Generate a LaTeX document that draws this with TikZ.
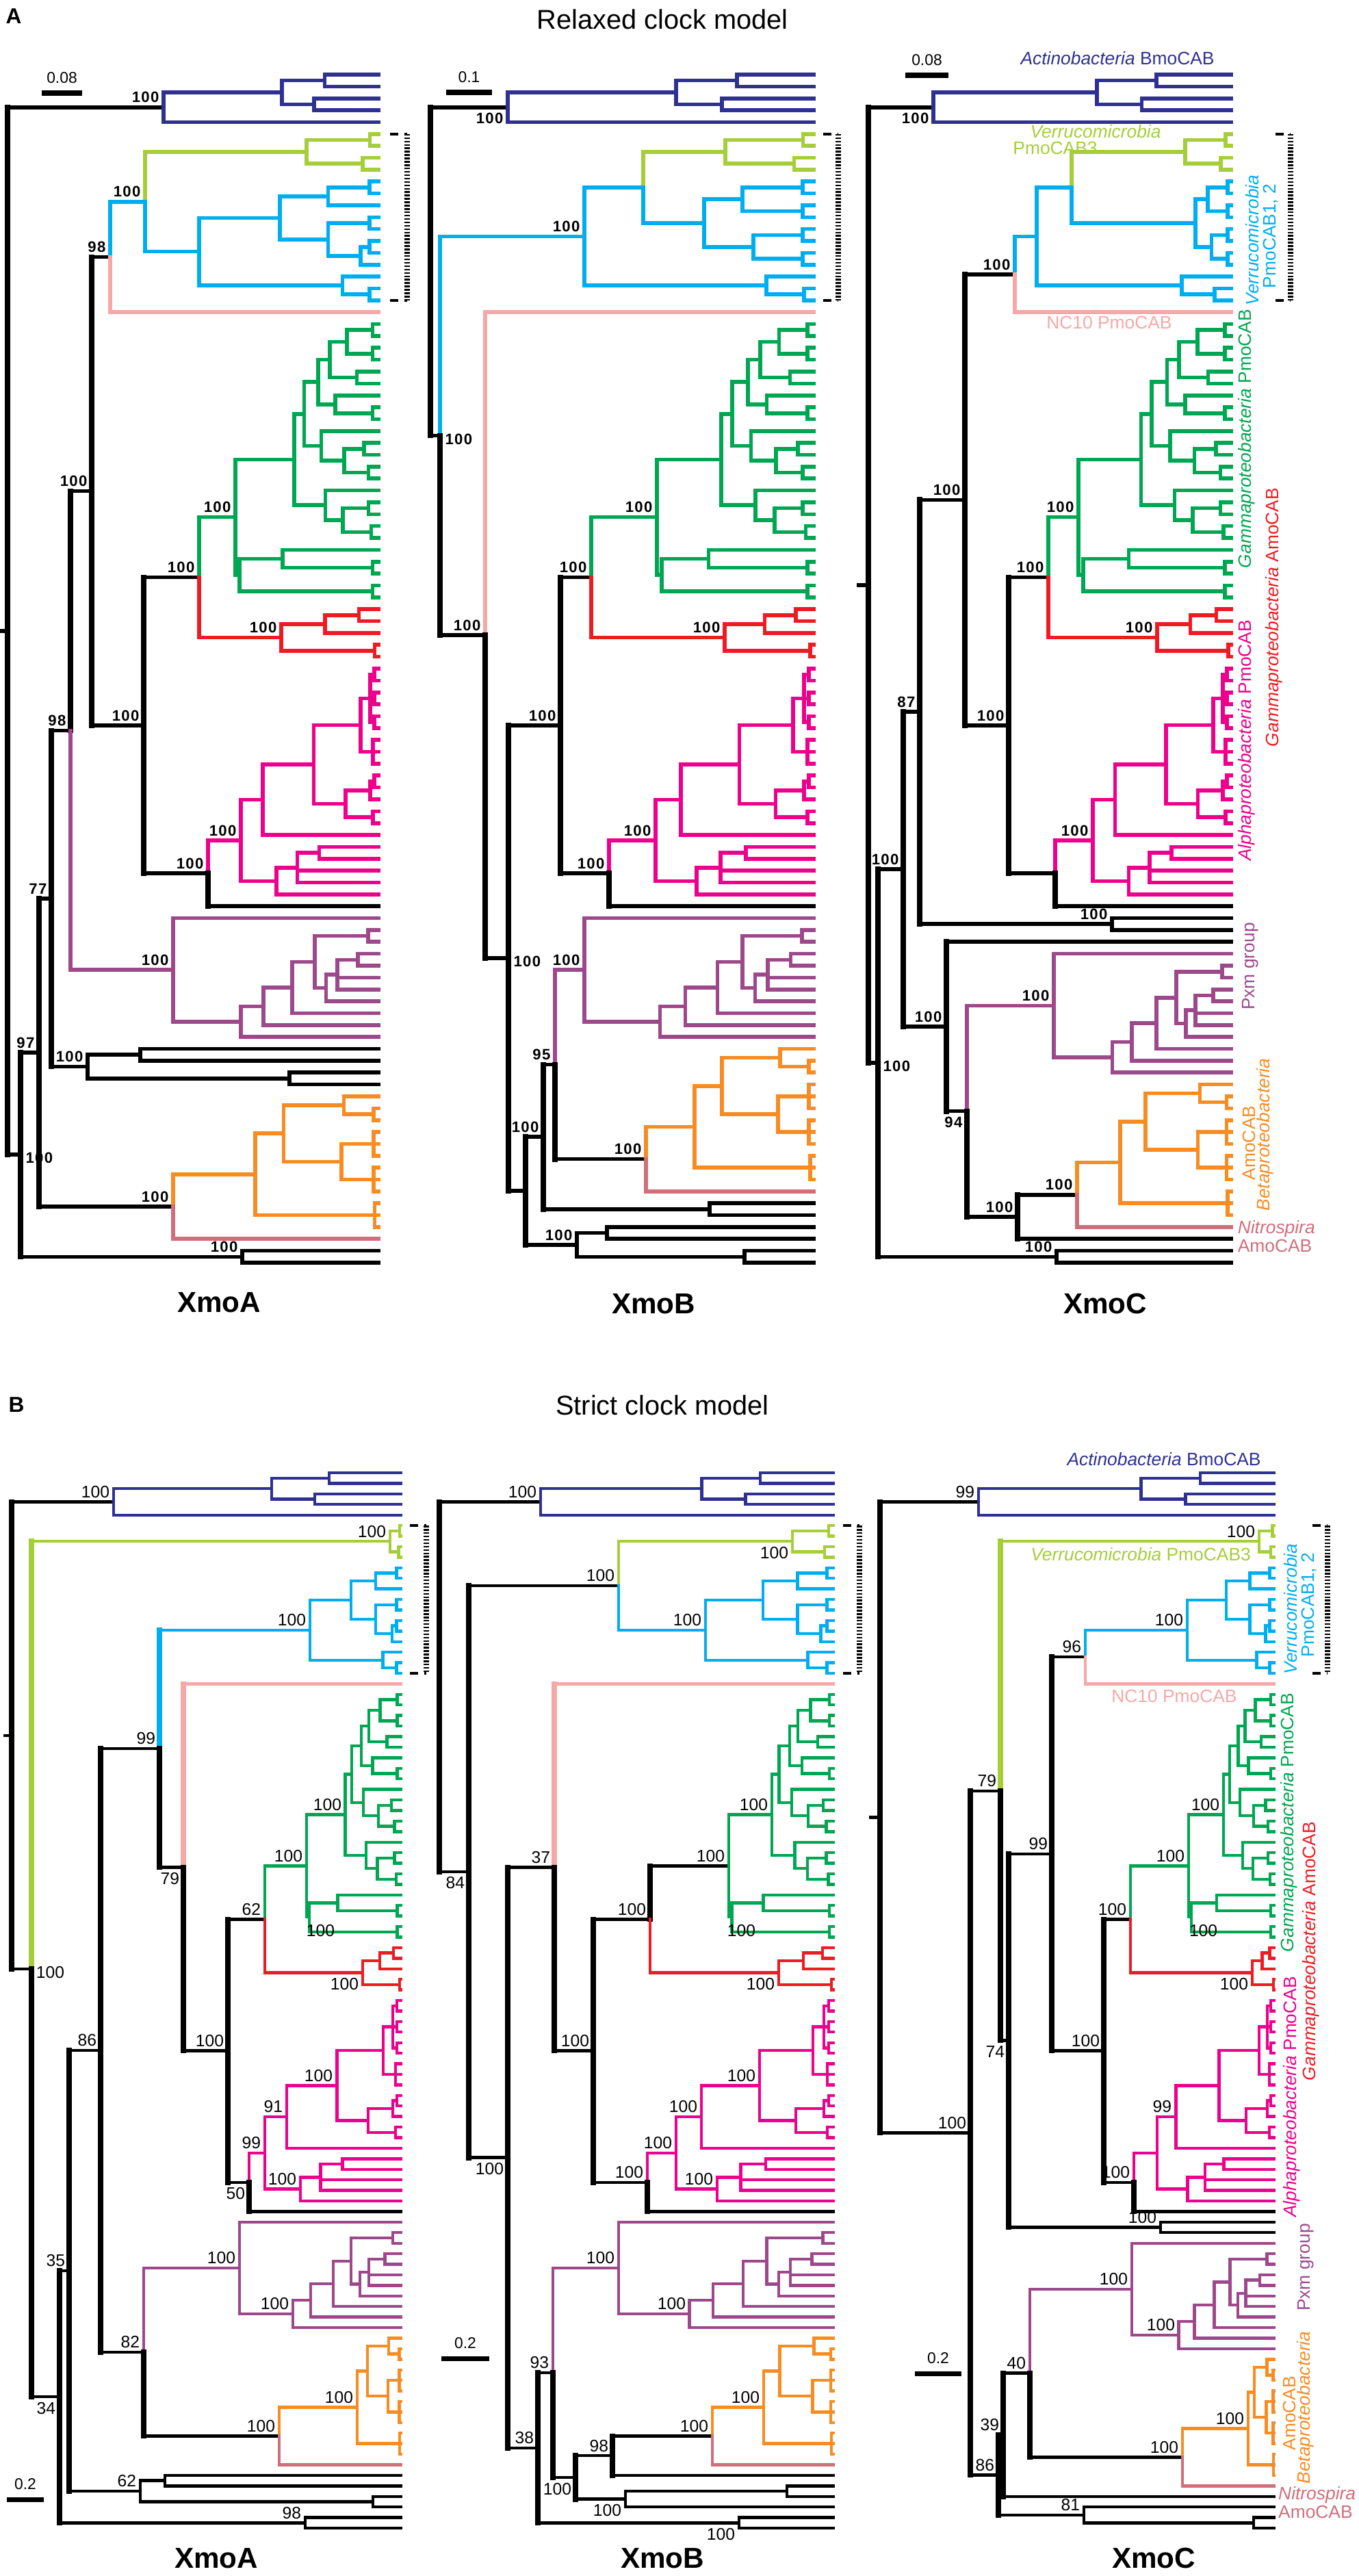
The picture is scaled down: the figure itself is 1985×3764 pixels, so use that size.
\documentclass[tikz,border=0pt]{standalone}
\usepackage{fontspec}
\setmainfont{Liberation Sans}
\newfontfamily\bsfont[LetterSpace=6]{Liberation Sans}

\definecolor{cAct}{RGB}{46,49,146}
\definecolor{cVer}{RGB}{166,206,57}
\definecolor{cCy}{RGB}{0,174,239}
\definecolor{cNc}{RGB}{246,168,166}
\definecolor{cGam}{RGB}{0,166,81}
\definecolor{cRed}{RGB}{237,28,36}
\definecolor{cAlp}{RGB}{236,0,140}
\definecolor{cPxm}{RGB}{158,72,140}
\definecolor{cBet}{RGB}{247,140,35}
\definecolor{cNit}{RGB}{208,110,122}

% branch helpers, x in pixels, rows counted from the top tip
\newcommand\hbr[4]{\draw[#1] (#2,{\ya+(#4)*\dy}) -- (#3,{\ya+(#4)*\dy});}
\newcommand\vbr[4]{\draw[#1] (#2,{\ya+(#3)*\dy}) -- (#2,{\ya+(#4)*\dy});}
\newcommand\rake[4]{\vbr{#1}{#2}{#3}{#4}%
  \foreach \kK in {#3,...,#4} {\hbr{#1}{#2}{\tx}{\kK}}}
% clade from list: parent f / node f / row / bar from / bar to / tips from / tips to
\newcommand\clade[4]{%
  \foreach \pP/\fF/\mM/\aA/\bB/\tA/\tB in #4 {%
    \ifdim\pP pt<\fF pt
      \draw[#1] ({#2+\pP*(\tx-#2)},{\ya+(#3+\mM)*\dy}) -- ({#2+\fF*(\tx-#2)},{\ya+(#3+\mM)*\dy});
    \fi
    \ifdim\aA pt<\bB pt
      \draw[#1] ({#2+\fF*(\tx-#2)},{\ya+(#3+\aA)*\dy}) -- ({#2+\fF*(\tx-#2)},{\ya+(#3+\bB)*\dy});
    \fi
    \ifdim\tA pt>\tB pt\else
      \foreach \kK in {\tA,...,\tB}
        {\draw[#1] ({#2+\fF*(\tx-#2)},{\ya+(#3+\kK)*\dy}) -- (\tx,{\ya+(#3+\kK)*\dy});}
    \fi
  }}
% support values
\newcommand\bsu[3]{\node[bsl,anchor=south east] at ({#1-2},{\ya+(#2)*\dy-2}) {#3};}
\newcommand\bsd[3]{\node[bsl,anchor=north east] at ({#1-2},{\ya+(#2)*\dy+4}) {#3};}
\newcommand\bsr[3]{\node[bsl,anchor=west] at ({#1+3},{\ya+(#2)*\dy+5}) {#3};}

% clade shapes
\def\Lblue{0/0/2.75/1.5/4/4/4, 0/0.55/1.5/0.5/2.5/1/0, 0.55/0.75/0.5/0/1/0/1, 0.55/0.7/2.5/2/3/2/3}
\def\Lgy{0/0/1.5/0.5/2.5/1/0, 0/0.88/0.5/0/1/0/1, 0/0.78/2.5/2/3/2/3}
\def\Lcyan{0/0/5.9/3.06/8.75/1/0, 0/0.45/3.06/1.25/4.875/1/0, 0.45/0.72/1.25/0.5/2/2/2,
  0.72/0.95/0.5/0/1/0/1, 0.45/0.72/4.875/3.5/6.25/1/0, 0.72/0.95/3.5/3/4/3/4,
  0.72/0.9/6.25/5.5/7/7/7, 0.9/0.95/5.5/5/6/5/6, 0/0.8/8.75/8/9.5/8/8, 0.8/0.95/9.5/9/10/9/10}
\def\Lcyeight{0/0/3.5/1.5/5.5/1/0, 0/0.35/1.5/0.5/2.5/1/0, 0.35/0.9/0.5/0/1/0/1,
  0.35/0.9/2.5/2/3/2/3, 0/0.45/5.5/4.5/6.5/1/0, 0.45/0.9/4.5/4/5/4/5, 0.45/0.9/6.5/6/7/6/7}
\def\Lgreen{0/0/16.25/11.4/21.1/1/0, 0/0.41/11.4/7.56/15.25/1/0, 0.41/0.48/7.56/4.875/10.25/1/0,
  0.48/0.58/4.875/3/6.75/1/0, 0.58/0.66/3/1.5/4.5/1/0, 0.66/0.78/1.5/0.5/2.5/1/0,
  0.78/0.96/0.5/0/1/0/1, 0.78/0.96/2.5/2/3/2/3, 0.66/0.85/4.5/4/5/4/5,
  0.58/0.7/6.75/6/7.5/6/6, 0.7/0.96/7.5/7/8/7/8, 0.48/0.6/10.25/9/11.5/9/9,
  0.6/0.76/11.5/10.5/12.5/1/0, 0.76/0.9/10.5/10/11/10/11, 0.76/0.93/12.5/12/13/12/13,
  0.41/0.63/15.25/14/16.5/14/14, 0.63/0.75/16.5/15.5/17.5/1/0, 0.75/0.93/15.5/15/16/15/16,
  0.75/0.95/17.5/17/18/17/18, 0/0.03/21.1/19.75/22.5/1/0, 0.03/0.33/19.75/19/20.5/19/19,
  0.33/0.96/20.5/20/21/20/21, 0.03/0.96/22.5/22/23/22/23}
\def\Lred{0/0/2.375/1.25/3.5/1/0, 0/0.45/1.25/0.5/2/2/2, 0.45/0.8/0.5/0/1/0/1, 0/0.96/3.5/3/4/3/4}
\def\Lmag{0/0/14.45/11.03/17.875/1/0, 0/0.16/11.03/8.06/14/14/14, 0.16/0.53/8.06/4.75/11.375/1/0,
  0.53/0.87/4.75/2.5/7/1/0, 0.87/0.94/2.5/0.5/4.5/1/0, 0.94/0.97/0.5/0/1/0/1,
  0.94/0.97/2.5/2/3/2/3, 0.94/0.97/4.5/4/5/4/5, 0.87/0.96/7/6/8/6/8,
  0.53/0.76/11.375/10.25/12.5/1/0, 0.76/0.94/10.25/9.5/11/11/11, 0.94/0.97/9.5/9/10/9/10,
  0.76/0.96/12.5/12/13/12/13, 0/0.26/17.875/16.75/19/19/19, 0.26/0.41/16.75/15.5/18/17/18,
  0.41/0.57/15.5/15/16/15/16}
\def\Lpurple{0/0/4.36/0/8.71/0/0, 0/0.33/8.71/7.42/10/10/10, 0.33/0.44/7.42/5.84/9/9/9,
  0.44/0.58/5.84/3.69/8/8/8, 0.58/0.69/3.69/1.5/5.875/1/0, 0.69/0.95/1.5/1/2/1/2,
  0.69/0.745/5.875/4.75/7/7/7, 0.745/0.8/4.75/3.5/6/5/6, 0.8/0.9/3.5/3/4/3/4}
\def\Lorange{0/0/6.56/3.125/10/1/0, 0/0.23/3.125/0.75/5.5/1/0, 0.23/0.72/0.75/0/1.5/0/0,
  0.72/0.96/1.5/1/2/1/2, 0.23/0.7/5.5/4/7/1/0, 0.7/0.96/4/3/5/3/5,
  0.7/0.96/7/6/8/6/8, 0/0.97/10/9/11/9/11}

\begin{document}
\begin{tikzpicture}[
    x = 0.01cm,
    y = -0.01cm,
    line cap = rect,
    clab/.style = {font=\fontsize{7.5}{8}\selectfont, inner sep=0pt},
    gene/.style = {font=\bfseries\fontsize{12}{14}\selectfont},
    brkh/.style = {line cap=butt, line width=1.1pt, dash pattern=on 3.5pt off 2.5pt},
    brkv/.style = {line cap=butt, line width=2.2pt, dash pattern=on 0.7pt off 0.7pt},
    sbar/.style = {line cap=butt, line width=2pt},
    slab/.style = {font=\fontsize{6.5}{7}\selectfont, inner sep=1pt},
    relaxed/.style = {line width=1.6pt, bkv/.style={black,line width=2.2pt},
      bsl/.style={font=\bsfont\bfseries\fontsize{6.3}{7}\selectfont, inner sep=0.5pt}},
    strict/.style = {line width=1.25pt, bkv/.style={black,line width=2.2pt},
      bsl/.style={font=\fontsize{7}{8}\selectfont, inner sep=0.5pt}},
    ]
  \useasboundingbox (0,0) rectangle (1985,3764);
  % panel titles
  \node[font=\bfseries\fontsize{9}{10}\selectfont] (lblA) at (20,24) {A};
  \node[font=\fontsize{11.3}{13}\selectfont] (ttlRel) at (968,28) {Relaxed clock model};
  \node[font=\bfseries\fontsize{9}{10}\selectfont] (lblB) at (24,2053) {B};
  \node[font=\fontsize{11.3}{13}\selectfont] (ttlStr) at (968,2053) {Strict clock model};
  \node[gene] (xmoArel) at (320,1903) {XmoA};
  \node[gene] (xmoBrel) at (955,1905) {XmoB};
  \node[gene] (xmoCrel) at (1615,1905) {XmoC};
  \node[gene] (xmoAstr) at (316,3738) {XmoA};
  \node[gene] (xmoBstr) at (968,3738) {XmoB};
  \node[gene] (xmoCstr) at (1686,3738) {XmoC};

  % ---------- relaxed XmoA ----------
  \begin{scope}[relaxed]
    \def\tx{553}\def\ya{109}\def\dy{17.36}
    \hbr{black}{0}{11}{46.83}
    \vbr{bkv}{11}{2.75}{90.91}
    \hbr{black}{11}{239}{2.75}
    \clade{cAct}{239}{0}{\Lblue}
    \hbr{black}{11}{30}{90.91}
    \vbr{bkv}{30}{82.32}{99.5}
    \hbr{black}{30}{57}{82.32}
    \hbr{black}{30}{354}{99.5}
    \rake{black}{354}{99}{100}
    \vbr{bkv}{57}{69.36}{95.28}
    \hbr{black}{57}{75}{69.36}
    \hbr{black}{57}{253}{95.28}
    \vbr{cBet}{253}{92.56}{95.28}
    \vbr{cNit}{253}{95.28}{98}
    \hbr{cBet}{253}{373}{92.56}
    \clade{cBet}{373}{86}{\Lorange}
    \hbr{cNit}{253}{\tx}{98}
    \vbr{bkv}{75}{55.21}{83.5}
    \hbr{black}{75}{103}{55.21}
    \hbr{black}{75}{128}{83.5}
    \vbr{black}{128}{82.5}{84.5}
    \hbr{black}{128}{205}{82.5}
    \rake{black}{205}{82}{83}
    \hbr{black}{128}{423}{84.5}
    \rake{black}{423}{84}{85}
    \vbr{bkv}{103}{35.06}{55.21}
    \vbr{cPxm}{103}{55.21}{75.36}
    \hbr{black}{103}{134}{35.06}
    \hbr{cPxm}{103}{253}{75.36}
    \clade{cPxm}{253}{71}{\Lpurple}
    \vbr{bkv}{134}{15.35}{54.77}
    \hbr{black}{134}{161}{15.35}
    \hbr{black}{134}{210}{54.77}
    \vbr{cCy}{161}{10.7}{15.35}
    \vbr{cNc}{161}{15.35}{20}
    \hbr{cCy}{161}{212}{10.7}
    \hbr{cNc}{161}{\tx}{20}
    \vbr{cVer}{212}{6.5}{10.7}
    \vbr{cCy}{212}{10.7}{14.9}
    \hbr{cVer}{212}{448}{6.5}
    \clade{cVer}{448}{5}{\Lgy}
    \hbr{cCy}{212}{291}{14.9}
    \clade{cCy}{291}{9}{\Lcyan}
    \vbr{bkv}{210}{42.31}{67.23}
    \hbr{black}{210}{291}{42.31}
    \hbr{black}{210}{304}{67.23}
    \vbr{cGam}{291}{37.25}{42.31}
    \vbr{cRed}{291}{42.31}{47.375}
    \hbr{cGam}{291}{344}{37.25}
    \clade{cGam}{344}{21}{\Lgreen}
    \hbr{cRed}{291}{411}{47.375}
    \clade{cRed}{411}{45}{\Lred}
    \vbr{cAlp}{304}{64.45}{67.23}
    \vbr{bkv}{304}{67.23}{70}
    \hbr{cAlp}{304}{352}{64.45}
    \clade{cAlp}{352}{50}{\Lmag}
    \hbr{black}{304}{\tx}{70}
    % support
    \bsu{239}{2.75}{100} \bsu{161}{15.35}{98} \bsu{212}{10.7}{100}
    \bsu{134}{35.06}{100} \bsu{291}{42.31}{100} \bsu{344}{37.25}{100}
    \bsu{411}{47.375}{100} \bsu{210}{54.77}{100} \bsu{352}{64.45}{100}
    \bsu{304}{67.23}{100} \bsu{103}{55.21}{98} \bsu{253}{75.36}{100}
    \bsu{75}{69.36}{77} \bsu{57}{82.32}{97} \bsu{128}{83.5}{100}
    \bsu{253}{95.28}{100} \bsr{30}{90.91}{100} \bsu{354}{99.5}{100}
    % scale and bracket
    \draw[sbar] (61,136) -- (120,136) node[midway, above=2pt, slab] {0.08};
    \draw[brkh] (570,{\ya+5*\dy}) -- (595,{\ya+5*\dy});
    \draw[brkh] (570,{\ya+19*\dy}) -- (595,{\ya+19*\dy});
    \draw[brkv] (595,{\ya+5*\dy}) -- (595,{\ya+19*\dy});
  \end{scope}

  % ---------- relaxed XmoB ----------
  \begin{scope}[relaxed]
    \def\tx{1189}\def\ya{109}\def\dy{17.36}
    \vbr{bkv}{629}{2.75}{30.39}
    \hbr{black}{629}{742}{2.75}
    \clade{cAct}{742}{0}{\Lblue}
    \hbr{black}{629}{643}{30.39}
    \vbr{cCy}{643}{13.63}{30.39}
    \vbr{bkv}{643}{30.39}{47.18}
    \hbr{cCy}{643}{854}{13.63}
    \hbr{black}{643}{709}{47.18}
    \vbr{cCy}{854}{9.5}{17.75}
    \hbr{cCy}{854}{940}{9.5}
    \hbr{cCy}{854}{1120}{17.75}
    \vbr{cCy}{1120}{17}{18.5}
    \hbr{cCy}{1120}{\tx}{17}
    \hbr{cCy}{1120}{1175}{18.5}
    \rake{cCy}{1175}{18}{19}
    \vbr{cVer}{940}{6.5}{9.5}
    \vbr{cCy}{940}{9.5}{12.5}
    \hbr{cVer}{940}{1060}{6.5}
    \clade{cVer}{1060}{5}{\Lgy}
    \hbr{cCy}{940}{1029}{12.5}
    \clade{cCy}{1029}{9}{\Lcyeight}
    \vbr{cNc}{709}{20}{47.18}
    \vbr{bkv}{709}{47.18}{74.36}
    \hbr{cNc}{709}{\tx}{20}
    \hbr{black}{709}{743}{74.36}
    \vbr{bkv}{743}{54.77}{93.95}
    \hbr{black}{743}{819}{54.77}
    \hbr{black}{743}{768}{93.95}
    \vbr{bkv}{819}{42.31}{67.23}
    \hbr{black}{819}{864}{42.31}
    \hbr{black}{819}{890}{67.23}
    \vbr{cGam}{864}{37.25}{42.31}
    \vbr{cRed}{864}{42.31}{47.375}
    \hbr{cGam}{864}{960}{37.25}
    \clade{cGam}{960}{21}{\Lgreen}
    \hbr{cRed}{864}{1059}{47.375}
    \clade{cRed}{1059}{45}{\Lred}
    \vbr{cAlp}{890}{64.45}{67.23}
    \vbr{bkv}{890}{67.23}{70}
    \hbr{cAlp}{890}{958}{64.45}
    \clade{cAlp}{958}{50}{\Lmag}
    \hbr{black}{890}{\tx}{70}
    \vbr{bkv}{768}{89.41}{98.5}
    \hbr{black}{768}{794}{89.41}
    \hbr{black}{768}{843}{98.5}
    \vbr{black}{843}{97.5}{99.5}
    \hbr{black}{843}{887}{97.5}
    \rake{black}{887}{97}{98}
    \hbr{black}{843}{1088}{99.5}
    \rake{black}{1088}{99}{100}
    \vbr{bkv}{794}{83.32}{95.5}
    \hbr{black}{794}{811}{83.32}
    \hbr{black}{794}{1037}{95.5}
    \rake{black}{1037}{95}{96}
    \vbr{cPxm}{811}{75.36}{83.32}
    \vbr{bkv}{811}{83.32}{91.28}
    \hbr{cPxm}{811}{854}{75.36}
    \clade{cPxm}{854}{71}{\Lpurple}
    \hbr{black}{811}{944}{91.28}
    \vbr{cBet}{944}{88.56}{91.28}
    \vbr{cNit}{944}{91.28}{94}
    \hbr{cBet}{944}{1015}{88.56}
    \clade{cBet}{1015}{82}{\Lorange}
    \hbr{cNit}{944}{\tx}{94}
    % support
    \bsd{742}{2.75}{100} \bsu{854}{13.63}{100} \bsr{643}{30.39}{100}
    \bsu{709}{47.18}{100} \bsr{743}{74.36}{100} \bsu{819}{54.77}{100}
    \bsu{864}{42.31}{100} \bsu{960}{37.25}{100} \bsu{1059}{47.375}{100}
    \bsu{958}{64.45}{100} \bsu{890}{67.23}{100} \bsu{854}{75.36}{100}
    \bsu{811}{83.32}{95} \bsu{944}{91.28}{100} \bsu{794}{89.41}{100}
    \bsu{843}{98.5}{100}
    % scale and bracket
    \draw[sbar] (652,135) -- (719,135) node[midway, above=2pt, slab] {0.1};
    \draw[brkh] (1203,{\ya+5*\dy}) -- (1225,{\ya+5*\dy});
    \draw[brkh] (1203,{\ya+19*\dy}) -- (1225,{\ya+19*\dy});
    \draw[brkv] (1225,{\ya+5*\dy}) -- (1225,{\ya+19*\dy});
  \end{scope}

  % ---------- relaxed XmoC ----------
  \begin{scope}[relaxed]
    \def\tx{1799}\def\ya{109}\def\dy{17.36}
    \hbr{black}{1255}{1269}{42.97}
    \vbr{bkv}{1269}{2.75}{83.19}
    \hbr{black}{1269}{1364}{2.75}
    \clade{cAct}{1364}{0}{\Lblue}
    \hbr{black}{1269}{1283}{83.19}
    \vbr{bkv}{1283}{66.88}{99.5}
    \hbr{black}{1283}{1320}{66.88}
    \hbr{black}{1283}{1544}{99.5}
    \rake{black}{1544}{99}{100}
    \vbr{bkv}{1320}{53.64}{80.13}
    \hbr{black}{1320}{1344}{53.64}
    \hbr{black}{1320}{1383}{80.13}
    \vbr{bkv}{1344}{35.79}{71.5}
    \hbr{black}{1344}{1410}{35.79}
    \hbr{black}{1344}{1625}{71.5}
    \rake{black}{1625}{71}{72}
    \vbr{bkv}{1410}{16.81}{54.77}
    \hbr{black}{1410}{1483}{16.81}
    \hbr{black}{1410}{1474}{54.77}
    \vbr{cCy}{1483}{13.63}{16.81}
    \vbr{cNc}{1483}{16.81}{20}
    \hbr{cCy}{1483}{1515}{13.63}
    \hbr{cNc}{1483}{\tx}{20}
    \vbr{cCy}{1515}{9.5}{17.75}
    \hbr{cCy}{1515}{1566}{9.5}
    \hbr{cCy}{1515}{1727}{17.75}
    \vbr{cCy}{1727}{17}{18.5}
    \hbr{cCy}{1727}{\tx}{17}
    \hbr{cCy}{1727}{1775}{18.5}
    \rake{cCy}{1775}{18}{19}
    \vbr{cVer}{1566}{6.5}{9.5}
    \vbr{cCy}{1566}{9.5}{12.5}
    \hbr{cVer}{1566}{1732}{6.5}
    \clade{cVer}{1732}{5}{\Lgy}
    \hbr{cCy}{1566}{1747}{12.5}
    \clade{cCy}{1747}{9}{\Lcyeight}
    \vbr{bkv}{1474}{42.31}{67.23}
    \hbr{black}{1474}{1532}{42.31}
    \hbr{black}{1474}{1542}{67.23}
    \vbr{cGam}{1532}{37.25}{42.31}
    \vbr{cRed}{1532}{42.31}{47.375}
    \hbr{cGam}{1532}{1576}{37.25}
    \clade{cGam}{1576}{21}{\Lgreen}
    \hbr{cRed}{1532}{1691}{47.375}
    \clade{cRed}{1691}{45}{\Lred}
    \vbr{cAlp}{1542}{64.45}{67.23}
    \vbr{bkv}{1542}{67.23}{70}
    \hbr{cAlp}{1542}{1597}{64.45}
    \clade{cAlp}{1597}{50}{\Lmag}
    \hbr{black}{1542}{\tx}{70}
    \vbr{bkv}{1383}{73}{87.25}
    \hbr{black}{1383}{\tx}{73}
    \hbr{black}{1383}{1413}{87.25}
    \vbr{cPxm}{1413}{78.36}{87.25}
    \vbr{bkv}{1413}{87.25}{96.14}
    \hbr{cPxm}{1413}{1540}{78.36}
    \clade{cPxm}{1540}{74}{\Lpurple}
    \hbr{black}{1413}{1487}{96.14}
    \vbr{bkv}{1487}{94.28}{98}
    \hbr{black}{1487}{1574}{94.28}
    \hbr{black}{1487}{\tx}{98}
    \vbr{cBet}{1574}{91.56}{94.28}
    \vbr{cNit}{1574}{94.28}{97}
    \hbr{cBet}{1574}{1637}{91.56}
    \clade{cBet}{1637}{85}{\Lorange}
    \hbr{cNit}{1574}{\tx}{97}
    % support
    \bsd{1364}{2.75}{100} \bsu{1483}{16.81}{100} \bsu{1410}{35.79}{100}
    \bsu{1532}{42.31}{100} \bsu{1576}{37.25}{100} \bsu{1691}{47.375}{100}
    \bsu{1474}{54.77}{100} \bsu{1597}{64.45}{100} \bsu{1344}{53.64}{87}
    \bsu{1320}{66.88}{100} \bsu{1625}{71.5}{100} \bsu{1383}{80.13}{100}
    \bsd{1413}{87.25}{94} \bsu{1540}{78.36}{100} \bsu{1574}{94.28}{100}
    \bsu{1487}{96.14}{100} \bsr{1283}{83.19}{100} \bsu{1544}{99.5}{100}
    % scale, bracket and names
    \draw[sbar] (1323,110) -- (1386,110) node[midway, above=2pt, slab] {0.08};
    \draw[brkh] (1864,{\ya+5*\dy}) -- (1886,{\ya+5*\dy});
    \draw[brkh] (1864,{\ya+19*\dy}) -- (1886,{\ya+19*\dy});
    \draw[brkv] (1886,{\ya+5*\dy}) -- (1886,{\ya+19*\dy});
    \node[clab, text=cAct] (actRel) at (1633,85) {\textit{Actinobacteria} BmoCAB};
    \node[clab, text=cVer] (verRel) at (1601,192) {\textit{Verrucomicrobia}};
    \node[clab, text=cVer] (pmo3Rel) at (1542,216) {PmoCAB3};
    \node[clab, text=cNc] (ncRel) at (1621,471) {NC10 PmoCAB};
    \node[clab, text=cCy, rotate=90] (verCyRel) at (1830,351) {\textit{Verrucomicrobia}};
    \node[clab, text=cCy, rotate=90] (pmo12Rel) at (1857,345) {PmoCAB1, 2};
    \node[clab, text=cGam, rotate=90] (gamPRel) at (1822,641) {\textit{Gammaproteobacteria} PmoCAB};
    \node[clab, text=cRed, rotate=90] (gamARel) at (1862,902) {\textit{Gammaproteobacteria} AmoCAB};
    \node[clab, text=cAlp, rotate=90] (alpRel) at (1822,1082) {\textit{Alphaproteobacteria} PmoCAB};
    \node[clab, text=cPxm, rotate=90] (pxmRel) at (1827,1412) {Pxm group};
    \node[clab, text=cBet, rotate=90] (amoRel) at (1825,1670) {AmoCAB};
    \node[clab, text=cBet, rotate=90] (betRel) at (1849,1658) {\textit{Betaproteobacteria}};
    \node[clab, text=cNit, anchor=west] (nitRel) at (1806,1796) {\textit{Nitrospira}};
    \node[clab, text=cNit, anchor=west] (nitAmoRel) at (1806,1820) {AmoCAB};
  \end{scope}

  % ---------- strict XmoA ----------
  \begin{scope}[strict]
    \def\tx{586}\def\ya{2152}\def\dy{15.42}
    \hbr{black}{7}{17}{24.89}
    \vbr{bkv}{17}{2.75}{47.03}
    \hbr{black}{17}{166}{2.75}
    \clade{cAct}{166}{0}{\Lblue}
    \hbr{black}{17}{46}{47.03}
    \vbr{cVer,line width=2.2pt}{46}{6.5}{47.03}
    \vbr{bkv}{46}{47.03}{87.56}
    \hbr{cVer}{46}{570}{6.5}
    \clade{cVer}{570}{5}{\Lgy}
    \hbr{black}{46}{87}{87.56}
    \vbr{bkv}{87}{75.6}{99.5}
    \hbr{black}{87}{101}{75.6}
    \hbr{black}{87}{446}{99.5}
    \rake{black}{446}{99}{100}
    \vbr{bkv}{101}{54.73}{96.5}
    \hbr{black}{101}{147}{54.73}
    \hbr{black}{101}{205}{96.5}
    \vbr{black}{205}{95.5}{97.5}
    \hbr{black}{205}{241}{95.5}
    \rake{black}{241}{95}{96}
    \hbr{black}{205}{545}{97.5}
    \rake{black}{545}{97}{98}
    \vbr{bkv}{147}{26.14}{83.32}
    \hbr{black}{147}{233}{26.14}
    \hbr{black}{147}{210}{83.32}
    \vbr{cCy,line width=2.2pt}{233}{14.9}{26.14}
    \vbr{bkv}{233}{26.14}{37.38}
    \hbr{cCy}{233}{453}{14.9}
    \clade{cCy}{453}{9}{\Lcyan}
    \hbr{black}{233}{268}{37.38}
    \vbr{cNc,line width=2.2pt}{268}{20}{37.38}
    \vbr{bkv}{268}{37.38}{54.77}
    \hbr{cNc}{268}{\tx}{20}
    \hbr{black}{268}{333}{54.77}
    \vbr{bkv}{333}{42.31}{67.23}
    \hbr{black}{333}{387}{42.31}
    \hbr{black}{333}{364}{67.23}
    \vbr{cGam}{387}{37.25}{42.31}
    \vbr{cRed}{387}{42.31}{47.375}
    \hbr{cGam}{387}{448}{37.25}
    \clade{cGam}{448}{21}{\Lgreen}
    \hbr{cRed}{387}{530}{47.375}
    \clade{cRed}{530}{45}{\Lred}
    \vbr{cAlp}{364}{64.45}{67.23}
    \vbr{bkv}{364}{67.23}{70}
    \hbr{cAlp}{364}{387}{64.45}
    \clade{cAlp}{387}{50}{\Lmag}
    \hbr{black}{364}{\tx}{70}
    \vbr{cPxm}{210}{75.36}{83.32}
    \vbr{bkv}{210}{83.32}{91.28}
    \hbr{cPxm}{210}{350}{75.36}
    \clade{cPxm}{350}{71}{\Lpurple}
    \hbr{black}{210}{408}{91.28}
    \vbr{cBet}{408}{88.56}{91.28}
    \vbr{cNit}{408}{91.28}{94}
    \hbr{cBet}{408}{522}{88.56}
    \clade{cBet}{522}{82}{\Lorange}
    \hbr{cNit}{408}{\tx}{94}
    % support
    \bsu{166}{2.75}{100} \bsu{570}{6.5}{100} \bsr{46}{47.03}{100}
    \bsu{453}{14.9}{100} \bsu{233}{26.14}{99} \bsd{268}{37.38}{79}
    \bsu{333}{54.77}{100} \bsu{387}{42.31}{62} \bsu{448}{37.25}{100}
    \bsu{505}{32.4}{100} \bsd{495}{42.3}{100} \bsd{530}{47.375}{100}
    \bsd{364}{67.23}{50} \bsu{387}{64.45}{99} \bsu{419}{61.03}{91}
    \bsu{492}{58.06}{100} \bsu{439}{67.875}{100} \bsu{147}{54.73}{86}
    \bsu{210}{83.32}{82} \bsu{350}{75.36}{100} \bsu{428}{79.7}{100}
    \bsu{408}{91.28}{100} \bsu{522}{88.56}{100} \bsu{101}{75.6}{35}
    \bsd{87}{87.56}{34} \bsu{205}{96.5}{62} \bsu{446}{99.5}{98}
    % scale and bracket
    \draw[sbar] (10,3652) -- (64,3652) node[midway, above=2pt, slab] {0.2};
    \draw[brkh] (599,{\ya+5*\dy}) -- (623,{\ya+5*\dy});
    \draw[brkh] (599,{\ya+19*\dy}) -- (623,{\ya+19*\dy});
    \draw[brkv] (623,{\ya+5*\dy}) -- (623,{\ya+19*\dy});
  \end{scope}

  % ---------- strict XmoB ----------
  \begin{scope}[strict]
    \def\tx{1218}\def\ya{2152}\def\dy{15.42}
    \vbr{bkv}{642}{2.75}{37.79}
    \hbr{black}{642}{790}{2.75}
    \clade{cAct}{790}{0}{\Lblue}
    \hbr{black}{642}{685}{37.79}
    \vbr{bkv}{685}{10.7}{64.89}
    \hbr{black}{685}{904}{10.7}
    \hbr{black}{685}{742}{64.89}
    \vbr{cVer}{904}{6.5}{10.7}
    \vbr{cCy}{904}{10.7}{14.9}
    \hbr{cVer}{904}{1158}{6.5}
    \clade{cVer}{1158}{5}{\Lgy}
    \hbr{cCy}{904}{1031}{14.9}
    \clade{cCy}{1031}{9}{\Lcyan}
    \vbr{bkv}{742}{37.38}{92.39}
    \hbr{black}{742}{810}{37.38}
    \hbr{black}{742}{786}{92.39}
    \vbr{cNc,line width=2.2pt}{810}{20}{37.38}
    \vbr{bkv}{810}{37.38}{54.77}
    \hbr{cNc}{810}{\tx}{20}
    \hbr{black}{810}{867}{54.77}
    \vbr{bkv}{867}{42.31}{67.23}
    \hbr{black}{867}{950}{42.31}
    \hbr{black}{867}{946}{67.23}
    \vbr{bkv}{950}{37.25}{42.31}
    \vbr{cRed}{950}{42.31}{47.375}
    \hbr{black}{950}{1065}{37.25}
    \clade{cGam}{1065}{21}{\Lgreen}
    \hbr{cRed}{950}{1138}{47.375}
    \clade{cRed}{1138}{45}{\Lred}
    \vbr{cAlp}{946}{64.45}{67.23}
    \vbr{bkv}{946}{67.23}{70}
    \hbr{cAlp}{946}{988}{64.45}
    \clade{cAlp}{988}{50}{\Lmag}
    \hbr{black}{946}{\tx}{70}
    \vbr{bkv}{786}{85.28}{99.5}
    \hbr{black}{786}{808}{85.28}
    \hbr{black}{786}{1080}{99.5}
    \rake{black}{1080}{99}{100}
    \vbr{cPxm}{808}{75.36}{85.28}
    \vbr{bkv}{808}{85.28}{95.2}
    \hbr{cPxm}{808}{904}{75.36}
    \clade{cPxm}{904}{71}{\Lpurple}
    \hbr{black}{808}{841}{95.2}
    \vbr{bkv}{841}{93.14}{97.25}
    \hbr{black}{841}{895}{93.14}
    \hbr{black}{841}{914}{97.25}
    \vbr{bkv}{895}{91.28}{95}
    \hbr{black}{895}{1041}{91.28}
    \hbr{black}{895}{\tx}{95}
    \vbr{cBet}{1041}{88.56}{91.28}
    \vbr{cNit}{1041}{91.28}{94}
    \hbr{cBet}{1041}{1116}{88.56}
    \clade{cBet}{1116}{82}{\Lorange}
    \hbr{cNit}{1041}{\tx}{94}
    \vbr{black}{914}{96.5}{98}
    \hbr{black}{914}{1150}{96.5}
    \rake{black}{1150}{96}{97}
    \hbr{black}{914}{\tx}{98}
    % support
    \bsu{790}{2.75}{100} \bsd{685}{37.79}{84} \bsu{904}{10.7}{100}
    \bsd{1158}{6.5}{100} \bsu{1031}{14.9}{100} \bsd{742}{64.89}{100}
    \bsu{810}{37.38}{37} \bsu{867}{54.77}{100} \bsu{950}{42.31}{100}
    \bsu{1065}{37.25}{100} \bsu{1128}{32.4}{100} \bsd{1110}{42.3}{100}
    \bsd{1138}{47.375}{100} \bsu{946}{67.23}{100} \bsu{988}{64.45}{100}
    \bsu{1025}{61.03}{100} \bsu{1110}{58.06}{100} \bsu{1048}{67.875}{100}
    \bsu{904}{75.36}{100} \bsu{1008}{79.7}{100} \bsu{808}{85.28}{93}
    \bsu{1041}{91.28}{100} \bsu{1116}{88.56}{100} \bsu{895}{93.14}{98}
    \bsu{786}{92.39}{38} \bsd{841}{95.2}{100} \bsd{914}{97.25}{100}
    \bsd{1080}{99.5}{100}
    % scale and bracket
    \draw[sbar] (645,3446) -- (715,3446) node[midway, above=2pt, slab] {0.2};
    \draw[brkh] (1232,{\ya+5*\dy}) -- (1256,{\ya+5*\dy});
    \draw[brkh] (1232,{\ya+19*\dy}) -- (1256,{\ya+19*\dy});
    \draw[brkv] (1256,{\ya+5*\dy}) -- (1256,{\ya+19*\dy});
  \end{scope}

  % ---------- strict XmoC ----------
  \begin{scope}[strict]
    \def\tx{1862}\def\ya{2152}\def\dy{15.42}
    \hbr{black}{1272}{1286}{32.65}
    \vbr{bkv}{1286}{2.75}{62.55}
    \hbr{black}{1286}{1430}{2.75}
    \clade{cAct}{1430}{0}{\Lblue}
    \hbr{black}{1286}{1418}{62.55}
    \vbr{bkv}{1418}{30.15}{94.96}
    \hbr{black}{1418}{1462}{30.15}
    \hbr{black}{1418}{1459}{94.96}
    \vbr{cVer,line width=2.2pt}{1462}{6.5}{30.15}
    \vbr{bkv}{1462}{30.15}{53.8}
    \hbr{cVer}{1462}{1840}{6.5}
    \clade{cVer}{1840}{5}{\Lgy}
    \hbr{black}{1462}{1474}{53.8}
    \vbr{bkv}{1474}{36.11}{71.5}
    \hbr{black}{1474}{1537}{36.11}
    \hbr{black}{1474}{1696}{71.5}
    \rake{black}{1696}{71}{72}
    \vbr{bkv}{1537}{17.45}{54.77}
    \hbr{black}{1537}{1586}{17.45}
    \hbr{black}{1537}{1613}{54.77}
    \vbr{cCy}{1586}{14.9}{17.45}
    \vbr{cNc}{1586}{17.45}{20}
    \hbr{cCy}{1586}{1735}{14.9}
    \clade{cCy}{1735}{9}{\Lcyan}
    \hbr{cNc}{1586}{\tx}{20}
    \vbr{bkv}{1613}{42.31}{67.23}
    \hbr{black}{1613}{1652}{42.31}
    \hbr{black}{1613}{1657}{67.23}
    \vbr{cGam}{1652}{37.25}{42.31}
    \vbr{cRed}{1652}{42.31}{47.375}
    \hbr{cGam}{1652}{1737}{37.25}
    \clade{cGam}{1737}{21}{\Lgreen}
    \hbr{cRed}{1652}{1830}{47.375}
    \clade{cRed}{1830}{45}{\Lred}
    \vbr{cAlp}{1657}{64.45}{67.23}
    \vbr{bkv}{1657}{67.23}{70}
    \hbr{cAlp}{1657}{1691}{64.45}
    \clade{cAlp}{1691}{50}{\Lmag}
    \hbr{black}{1657}{\tx}{70}
    \vbr{bkv}{1459}{91.16}{98.75}
    \hbr{black}{1459}{1466}{91.16}
    \hbr{black}{1459}{1584}{98.75}
    \vbr{black}{1584}{98}{99.5}
    \hbr{black}{1584}{\tx}{98}
    \hbr{black}{1584}{1832}{99.5}
    \rake{black}{1832}{99}{100}
    \vbr{bkv}{1466}{85.32}{97}
    \hbr{black}{1466}{1505}{85.32}
    \hbr{black}{1466}{\tx}{97}
    \vbr{cPxm}{1505}{77.36}{85.32}
    \vbr{bkv}{1505}{85.32}{93.28}
    \hbr{cPxm}{1505}{1654}{77.36}
    \clade{cPxm}{1654}{73}{\Lpurple}
    \hbr{black}{1505}{1728}{93.28}
    \vbr{cBet}{1728}{90.56}{93.28}
    \vbr{cNit}{1728}{93.28}{96}
    \hbr{cBet}{1728}{1824}{90.56}
    \clade{cBet}{1824}{84}{\Lorange}
    \hbr{cNit}{1728}{\tx}{96}
    % support
    \bsu{1430}{2.75}{99} \bsu{1840}{6.5}{100} \bsu{1462}{30.15}{79}
    \bsu{1418}{62.55}{100} \bsd{1474}{53.8}{74} \bsu{1537}{36.11}{99}
    \bsu{1586}{17.45}{96} \bsu{1735}{14.9}{100} \bsu{1613}{54.77}{100}
    \bsu{1652}{42.31}{100} \bsu{1737}{37.25}{100} \bsu{1788}{32.4}{100}
    \bsd{1785}{42.3}{100} \bsd{1830}{47.375}{100} \bsu{1657}{67.23}{100}
    \bsu{1718}{61.03}{99} \bsu{1696}{71.5}{100} \bsu{1459}{94.96}{86}
    \bsu{1466}{91.16}{39} \bsu{1505}{85.32}{40} \bsu{1654}{77.36}{100}
    \bsu{1723}{81.71}{100} \bsu{1728}{93.28}{100} \bsu{1824}{90.56}{100}
    \bsu{1584}{98.75}{81}
    % scale, bracket and names
    \draw[sbar] (1337,3468) -- (1405,3468) node[midway, above=2pt, slab] {0.2};
    \draw[brkh] (1918,{\ya+5*\dy}) -- (1940,{\ya+5*\dy});
    \draw[brkh] (1918,{\ya+19*\dy}) -- (1940,{\ya+19*\dy});
    \draw[brkv] (1940,{\ya+5*\dy}) -- (1940,{\ya+19*\dy});
    \node[clab, text=cAct] (actStr) at (1701,2132) {\textit{Actinobacteria} BmoCAB};
    \node[clab, text=cVer] (verStr) at (1667,2271) {\textit{Verrucomicrobia} PmoCAB3};
    \node[clab, text=cNc] (ncStr) at (1716,2478) {NC10 PmoCAB};
    \node[clab, text=cCy, rotate=90] (verCyStr) at (1886,2351) {\textit{Verrucomicrobia}};
    \node[clab, text=cCy, rotate=90] (pmo12Str) at (1913,2345) {PmoCAB1, 2};
    \node[clab, text=cGam, rotate=90] (gamPStr) at (1884,2663) {\textit{Gammaproteobacteria} PmoCAB};
    \node[clab, text=cRed, rotate=90] (gamAStr) at (1916,2851) {\textit{Gammaproteobacteria} AmoCAB};
    \node[clab, text=cAlp, rotate=90] (alpStr) at (1888,3064) {\textit{Alphaproteobacteria} PmoCAB};
    \node[clab, text=cPxm, rotate=90] (pxmStr) at (1908,3313) {Pxm group};
    \node[clab, text=cBet, rotate=90] (amoStr) at (1884,3526) {AmoCAB};
    \node[clab, text=cBet, rotate=90] (betStr) at (1908,3518) {\textit{Betaproteobacteria}};
    \node[clab, text=cNit, anchor=west] (nitStr) at (1866,3646) {\textit{Nitrospira}};
    \node[clab, text=cNit, anchor=west] (nitAmoStr) at (1866,3670) {AmoCAB};
  \end{scope}
\end{tikzpicture}
\end{document}
